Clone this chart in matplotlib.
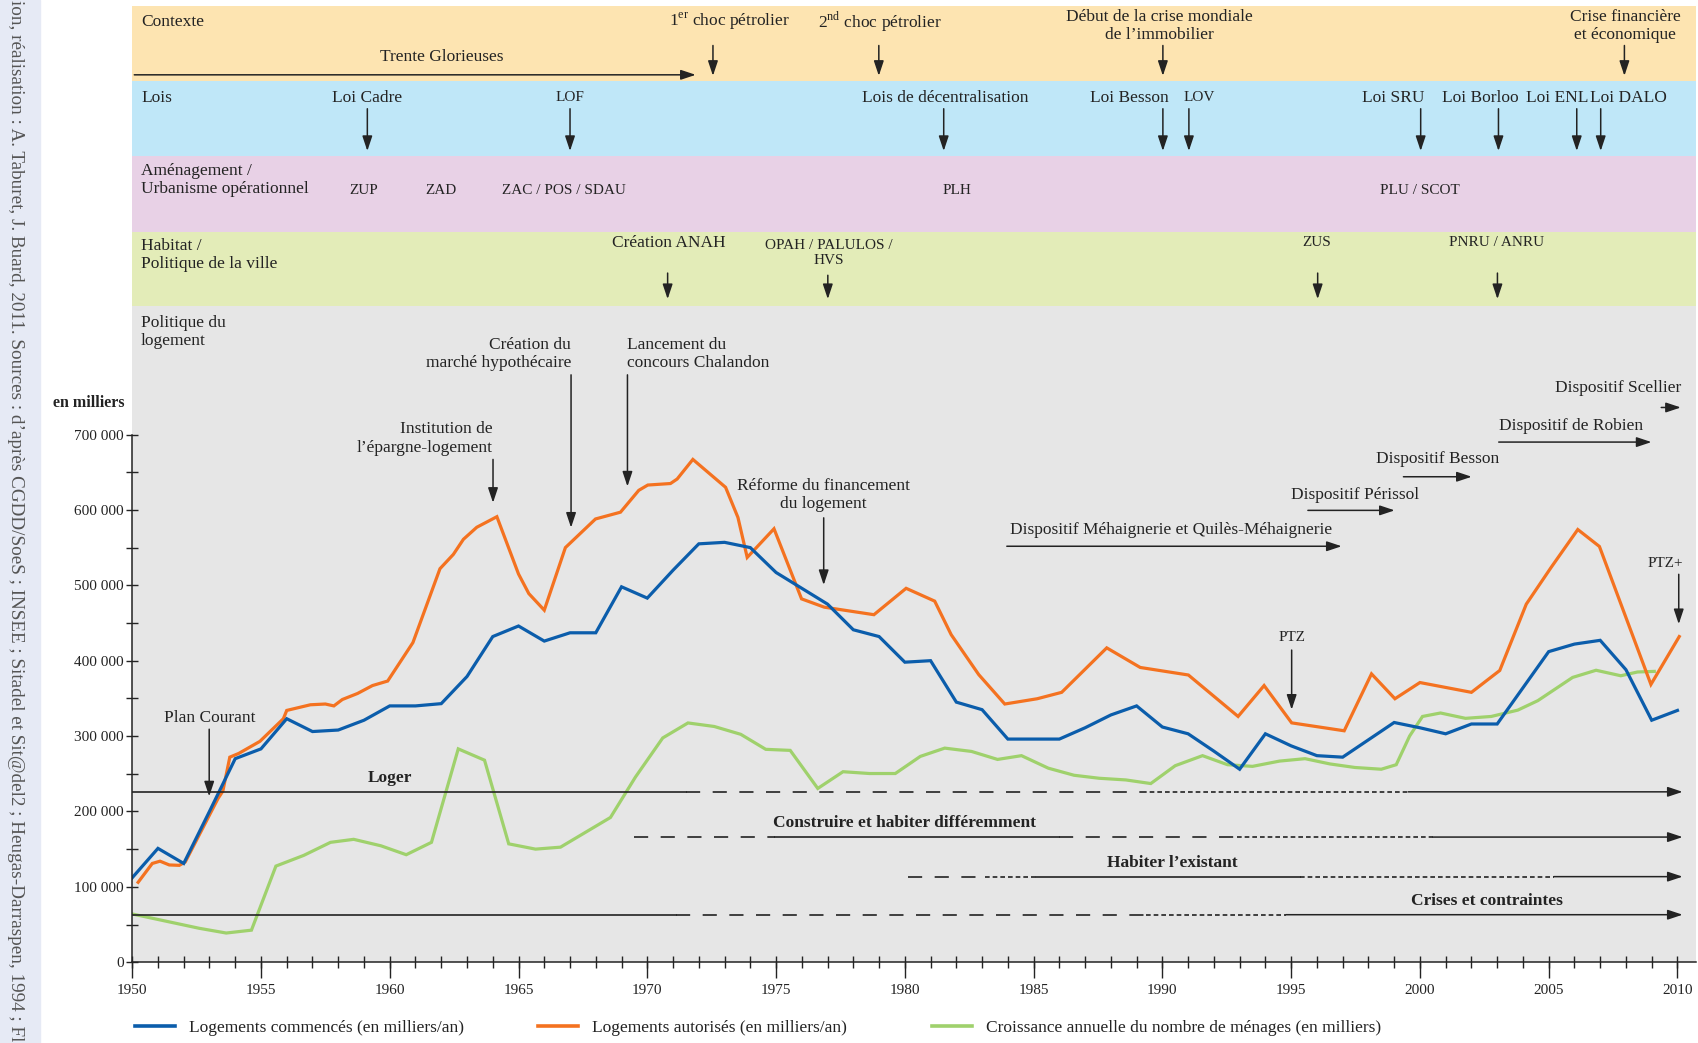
import matplotlib
matplotlib.use("Agg")
import matplotlib.pyplot as plt
from matplotlib.ticker import FixedLocator, MultipleLocator
from matplotlib.patches import Rectangle

plt.rcParams['font.family'] = ['Liberation Serif', 'DejaVu Serif']
plt.rcParams['mathtext.fontset'] = 'custom'
plt.rcParams['mathtext.rm'] = 'Liberation Serif'

# ---- données (en milliers) ----
commences_annees = list(range(1950, 2011))
commences = [112, 151, 131, 200, 270, 283, 323, 306, 308, 321,
             340, 340, 343, 379, 432, 446, 426, 437, 437, 498,
             483, 520, 555, 557, 550, 517, 496, 475, 441, 432,
             398, 400, 345, 335, 296, 296, 296, 311, 328, 340,
             312, 303, 280, 256, 303, 287, 274, 272, 295, 318,
             311, 303, 316, 316, 364, 412, 422, 427, 388, 321, 334]

autorises_annees = [1950.23, 1950.78, 1951.08, 1951.44, 1951.83, 1952.06, 1953.33, 1953.52,
                    1953.79, 1954.14, 1954.96, 1955.87, 1956.0, 1956.92, 1957.5, 1957.83,
                    1958.16, 1958.75, 1959.33, 1959.92, 1960.9, 1961.95, 1962.47, 1962.86,
                    1963.38, 1964.16, 1965.0, 1965.4, 1966.0, 1966.82, 1967.99, 1968.96,
                    1969.67, 1970.02, 1970.9, 1971.16, 1971.77, 1973.04, 1973.52, 1973.88,
                    1974.92, 1975.99, 1976.87, 1978.8, 1980.05, 1981.16, 1981.8, 1982.87,
                    1983.88, 1985.14, 1986.09, 1987.84, 1989.14, 1991.01, 1992.94, 1993.95,
                    1995.02, 1997.06, 1998.12, 1999.03, 2000.0, 2002.0, 2003.1, 2004.13,
                    2005.1, 2006.13, 2006.97, 2008.97, 2010.07]
autorises = [106, 131, 134, 129, 128.5, 133, 217, 227,
             272, 277, 293, 323, 334, 341.5, 342.5, 340,
             348.5, 356.5, 367, 373, 424, 522, 541, 561,
             577, 591, 515, 489, 467, 550, 588, 597,
             626, 633, 635, 641, 667, 630, 590, 537,
             575, 482, 471, 461, 496, 479, 434.5, 381.5,
             342.5, 349.5, 358, 417, 391, 381, 326, 367,
             317.5, 307, 382.5, 349.5, 371, 358, 387, 475,
             524, 574, 551.5, 368.5, 432]

menages_annees = [1950.0, 1952.6, 1953.65, 1954.63, 1955.58, 1956.66, 1957.7, 1958.6,
                  1959.66, 1960.64, 1961.62, 1962.66, 1963.68, 1964.62, 1965.66, 1966.63,
                  1968.57, 1969.54, 1970.6, 1971.58, 1972.6, 1973.63, 1974.6, 1975.55,
                  1976.62, 1977.6, 1978.63, 1979.63, 1980.6, 1981.55, 1982.59, 1983.6,
                  1984.53, 1985.57, 1986.57, 1987.55, 1988.58, 1989.55, 1990.5, 1991.56,
                  1992.53, 1993.5, 1994.55, 1995.54, 1996.51, 1997.48, 1998.5, 1999.08,
                  1999.6, 2000.1, 2000.8, 2001.77, 2002.77, 2003.8, 2004.58, 2005.93,
                  2006.84, 2007.8, 2008.45, 2009.1]
menages = [64, 45, 38.7, 42.5, 127.5, 141.7, 159, 163,
           154.4, 142.6, 159, 283, 268, 157, 150, 152.6,
           192, 245.6, 297.5, 317.4, 312.7, 302.3, 282.4, 281,
           230.5, 252.7, 250.3, 250.3, 273, 284, 279.6, 269,
           274, 257.4, 248, 244, 241.8, 237, 260.7, 274,
           262, 259.8, 266.8, 270, 263, 258.3, 256, 262,
           300, 326, 330.6, 323.5, 326, 334.4, 347, 377.8,
           387.3, 380, 385, 385.8]

y_ticks = [0, 100000, 200000, 300000, 400000, 500000, 600000, 700000]
y_labels = ['0', '100 000', '200 000', '300 000', '400 000', '500 000', '600 000', '700 000']
y_minor = [50000, 150000, 250000, 350000, 450000, 550000, 650000]
x_ticks = list(range(1950, 2011, 5))

legende = ['Logements commencés (en milliers/an)',
           'Logements autorisés (en milliers/an)',
           'Croissance annuelle du nombre de ménages (en milliers)']

BLUE = '#0b5dab'
ORANGE = '#f47220'
GREEN = '#9fd16c'
INK = '#232323'

# bandes thématiques (bas, haut, couleur)
bandes = [(1169000, 1268500, '#fde4b1'),
          (1069500, 1169000, '#bfe7f8'),
          (969100, 1069500, '#e8d1e6'),
          (870500, 969100, '#e3ecb8'),
          (0, 870500, '#e6e6e6')]

fig = plt.figure(figsize=(16.99, 10.43), dpi=100)
fig.patches.append(Rectangle((0, 0), 40 / 1699, 1, transform=fig.transFigure,
                             color='#e6eaf5', zorder=0))
fig.text(15 / 1699, 1.0,
         "ion, réalisation : A. Taburet, J. Buard, 2011. Sources : d’après CGDD/SoeS ; "
         "INSEE ; Sitadel et Sit@del2 ; Heugas-Darraspen, 1994 ; Fl",
         rotation=270, ha='center', va='top', fontsize=13.8, color='#555555')

ax = fig.add_axes([132.2 / 1699, (1043 - 962.2) / 1043,
                   (1696 - 132.2) / 1699, (962.2 - 6) / 1043])
ax.set_xlim(1950, 2010.72)
ax.set_ylim(0, 1268500)
ax.patch.set_visible(False)

for bas, haut, c in bandes:
    ax.axhspan(bas, haut, color=c, lw=0, zorder=0)

# courbes
ax.plot(commences_annees, [v * 1000 for v in commences], color=BLUE, lw=2.3, zorder=5,
        solid_joinstyle='miter')
ax.plot(autorises_annees, [v * 1000 for v in autorises], color=ORANGE, lw=2.3, zorder=4,
        solid_joinstyle='miter')
ax.plot(menages_annees, [v * 1000 for v in menages], color=GREEN, lw=2.3, zorder=3,
        solid_joinstyle='miter')

# axes
for s in ['top', 'right']:
    ax.spines[s].set_visible(False)
ax.spines['left'].set_bounds(0, 700000)
for s in ['left', 'bottom']:
    ax.spines[s].set_linewidth(1.1)
    ax.spines[s].set_color(INK)
    ax.spines[s].set_zorder(6)
ax.yaxis.set_major_locator(FixedLocator(y_ticks))
ax.yaxis.set_minor_locator(FixedLocator(y_minor))
ax.set_yticklabels(y_labels)
ax.xaxis.set_major_locator(FixedLocator(x_ticks))
ax.xaxis.set_minor_locator(MultipleLocator(1))
ax.xaxis.remove_overlapping_locs = False
ax.tick_params(axis='x', which='major', direction='out', length=11.5, width=1.0,
               pad=4, labelsize=11, colors=INK)
ax.tick_params(axis='x', which='minor', direction='inout', length=8, width=1.0, colors=INK)
ax.tick_params(axis='y', which='both', direction='inout', length=8.5, width=1.0,
               pad=2, labelsize=11, colors=INK)

fig.text(88.8 / 1699, 1 - 403 / 1043, 'en milliers', ha='center', va='center',
         fontsize=11.5, fontweight='bold', color=INK)

FS = 12.5
SC = 11


def fleche(x0, y0, x1, y1):
    ax.annotate('', xy=(x1, y1), xytext=(x0, y0), zorder=7,
                arrowprops=dict(arrowstyle='-|>,head_length=0.9,head_width=0.3',
                                lw=1.1, color=INK, shrinkA=0, shrinkB=0,
                                mutation_scale=10))


def texte(x, y, s, ha='center', fs=FS, **kw):
    ax.text(x, y, s, ha=ha, va='center', fontsize=fs, color=INK, zorder=7,
            linespacing=1.2, **kw)


# --- Contexte
texte(1950.34, 1247700, 'Contexte', ha='left')
texte(1962.0, 1200200, 'Trente Glorieuses')
fleche(1950.08, 1177200, 1971.88, 1177200)
texte(1973.18, 1247700, r'1$^{\mathrm{er}}$ choc pétrolier')
fleche(1972.55, 1216100, 1972.55, 1175900)
texte(1979.03, 1247700, r'2$^{\mathrm{nd}}$ choc pétrolier')
fleche(1978.99, 1216100, 1978.99, 1175900)
texte(1989.89, 1242000, 'Début de la crise mondiale\nde l’immobilier')
fleche(1990.02, 1216100, 1990.02, 1175900)
texte(2007.98, 1242000, 'Crise financière\net économique')
fleche(2007.94, 1216100, 2007.94, 1175900)

# --- Lois
Y_LOI = 1147000
texte(1950.34, Y_LOI, 'Lois', ha='left')
lois = [('Loi Cadre', 1959.13, 1959.13, FS), ('LOF', 1967.0, 1967.0, SC),
        ('Lois de décentralisation', 1981.56, 1981.51, FS),
        ('Loi Besson', 1988.71, 1990.02, FS), ('LOV', 1991.45, 1991.03, SC),
        ('Loi SRU', 1998.98, 2000.03, FS), ('Loi Borloo', 2002.34, 2003.05, FS),
        ('Loi ENL', 2005.33, 2006.09, FS), ('Loi DALO', 2008.1, 2007.02, FS)]
for nom, xt, xf, fs in lois:
    texte(xt, Y_LOI, nom, fs=fs)
    fleche(xf, 1132200, xf, 1076200)

# --- Aménagement
texte(1950.34, 1038000, 'Aménagement /\nUrbanisme opérationnel', ha='left')
for nom, xt in [('ZUP', 1959.0), ('ZAD', 1961.99), ('ZAC / POS / SDAU', 1966.75),
                ('PLH', 1982.02), ('PLU / SCOT', 1999.99)]:
    texte(xt, 1023900, nom, fs=SC)

# --- Habitat
texte(1950.34, 938500, 'Habitat /\nPolitique de la ville', ha='left')
texte(1970.83, 954400, 'Création ANAH')
fleche(1970.79, 914200, 1970.79, 879700)
texte(1977.06, 940500, 'OPAH / PALULOS /\nHVS', fs=SC)
fleche(1977.01, 911300, 1977.01, 879700)
texte(1995.99, 954400, 'ZUS', fs=SC)
fleche(1996.03, 914200, 1996.03, 879700)
texte(2002.97, 954400, 'PNRU / ANRU', fs=SC)
fleche(2003.01, 914200, 2003.01, 879700)

# --- Politique du logement
texte(1950.34, 836400, 'Politique du\nlogement', ha='left')
texte(1967.04, 807000, 'Création du\nmarché hypothécaire', ha='right')
fleche(1967.04, 779200, 1967.04, 576500)
texte(1969.23, 807000, 'Lancement du\nconcours Chalandon', ha='left')
fleche(1969.23, 779200, 1969.23, 631100)
texte(1964.01, 694800, 'Institution de\nl’épargne-logement', ha='right')
fleche(1964.01, 667000, 1964.01, 609500)
texte(1976.85, 620000, 'Réforme du financement\ndu logement')
fleche(1976.85, 589500, 1976.85, 500400)
texte(1953.03, 323500, 'Plan Courant')
fleche(1952.99, 309100, 1952.99, 220000)
texte(1995.02, 431300, 'PTZ', fs=SC)
fleche(1995.02, 414100, 1995.02, 335000)
texte(2009.54, 529000, 'PTZ+', fs=SC)
fleche(2010.05, 514600, 2010.05, 448500)

dispositifs = [('Dispositif Scellier', 2010.13, 'right', 761800, 2009.37, 2010.13, 735900),
               ('Dispositif de Robien', 2003.06, 'left', 711500, 2003.06, 2008.99, 690000),
               ('Dispositif Besson', 1998.3, 'left', 667000, 1999.36, 2002.01, 644000),
               ('Dispositif Périssol', 1994.98, 'left', 619500, 1995.65, 1999.02, 599400),
               ('Dispositif Méhaignerie et Quilès-Méhaignerie', 1984.08, 'left', 573400,
                1983.96, 1996.96, 551800)]
for nom, xt, ha, yt, x0, x1, yf in dispositifs:
    texte(xt, yt, nom, ha=ha)
    fleche(x0, yf, x1, yf)

# --- grands axes de politique (lignes horizontales)
LONG = (0, (8.5, 7.5))
COURT = (0, (2.8, 1.8))
processus = [
    ('Loger', 226000, 1960.0,
     [(1950, 1971.5, '-'), (1971.5, 1989.2, LONG), (1989.2, 1999.55, COURT), (1999.55, 2010.2, '>')]),
    ('Construire et habiter différemment', 166000, 1980.0,
     [(1969.5, 1974.95, LONG), (1974.95, 1986.0, '-'), (1986.0, 1992.9, LONG),
      (1992.9, 2000.5, COURT), (2000.5, 2010.2, '>')]),
    ('Habiter l’existant', 113500, 1990.4,
     [(1980.13, 1983.1, LONG), (1983.1, 1985.1, COURT), (1985.1, 1995.36, '-'),
      (1995.36, 2005.2, COURT), (2005.2, 2010.2, '>')]),
    ('Crises et contraintes', 63000, 2002.6,
     [(1950, 1971.1, '-'), (1971.1, 1989.35, LONG), (1989.35, 1994.8, COURT), (1994.8, 2010.2, '>')]),
]
for nom, yl, xt, segments in processus:
    for x0, x1, style in segments:
        if style == '>':
            fleche(x0, yl, x1, yl)
        else:
            ax.plot([x0, x1], [yl, yl], color=INK, lw=1.2, ls=style, zorder=6,
                    dash_capstyle='butt')
    ax.text(xt, yl + 18500, nom, ha='center', va='center', fontsize=FS,
            fontweight='bold', color=INK, zorder=7)

# --- légende
for nom, c, x in zip(legende, [BLUE, ORANGE, GREEN], [135, 538.5, 931.8]):
    h, = ax.plot([], [], color=c, lw=2.6)
    fig.legend([h], [nom], loc='center left', bbox_to_anchor=(x / 1699, 0.0142),
               frameon=False, borderpad=0, borderaxespad=0, handlelength=2.3,
               handletextpad=0.8, fontsize=12.5, labelcolor=INK)

fig.savefig('out.png', dpi=100)
